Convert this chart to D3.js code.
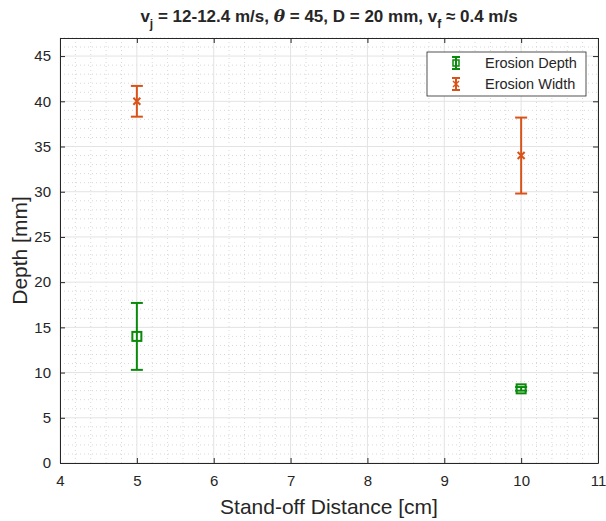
<!DOCTYPE html>
<html>
<head>
<meta charset="utf-8">
<script src="https://cdn.jsdelivr.net/npm/d3@7"></script>
<style>
  body { margin: 0; background: #fff; }
  text { font-family: "Liberation Sans", Arial, sans-serif; }
</style>
</head>
<body>
<svg width="606" height="521"></svg>
<script>
// data
const standoff = [5, 10];
const depthVals = [14, 8.2];
const depthErr = [3.7, 0.2];
const widthVals = [40, 34];
const widthErr = [1.7, 4.2];
const xTicks = [4, 5, 6, 7, 8, 9, 10, 11];
const yTicks = [0, 5, 10, 15, 20, 25, 30, 35, 40, 45];

const green = "#0a8a0a";
const orange = "#d95319";

const svg = d3.select("svg");
const margin = {top: 38, right: 8, bottom: 58, left: 60};
const W = 606 - margin.left - margin.right;
const H = 521 - margin.top - margin.bottom;

const x = d3.scaleLinear().domain([4, 11]).range([0, W]);
const y = d3.scaleLinear().domain([0, 47]).range([H, 0]);

const chart = svg.append("g")
    .attr("transform", `translate(${margin.left}, ${margin.top})`);

// minor grid (dotted)
const xMinor = d3.range(4, 11.001, 0.2).filter(v => Math.abs(v - Math.round(v)) > 0.01);
const yMinor = d3.range(0, 47.001, 1).filter(v => v % 5 !== 0);
chart.selectAll(".xminor").data(xMinor).enter().append("line")
    .attr("x1", d => x(d)).attr("x2", d => x(d))
    .attr("y1", 0).attr("y2", H)
    .attr("stroke", "#d8d8d8").attr("stroke-width", 1)
    .attr("stroke-dasharray", "1,3");
chart.selectAll(".yminor").data(yMinor).enter().append("line")
    .attr("x1", 0).attr("x2", W)
    .attr("y1", d => y(d)).attr("y2", d => y(d))
    .attr("stroke", "#d8d8d8").attr("stroke-width", 1)
    .attr("stroke-dasharray", "1,3");

// major grid
chart.selectAll(".xmajor").data(xTicks).enter().append("line")
    .attr("x1", d => x(d)).attr("x2", d => x(d))
    .attr("y1", 0).attr("y2", H)
    .attr("stroke", "#e3e3e3").attr("stroke-width", 1);
chart.selectAll(".ymajor").data(yTicks).enter().append("line")
    .attr("x1", 0).attr("x2", W)
    .attr("y1", d => y(d)).attr("y2", d => y(d))
    .attr("stroke", "#e3e3e3").attr("stroke-width", 1);

// axes with inward ticks
const xAxis = chart.append("g")
    .attr("transform", `translate(0, ${H})`)
    .call(d3.axisBottom(x).tickValues(xTicks).tickFormat(d3.format("d"))
        .tickSizeInner(-5).tickSizeOuter(0).tickPadding(12));
const yAxis = chart.append("g")
    .call(d3.axisLeft(y).tickValues(yTicks).tickFormat(d3.format("d"))
        .tickSizeInner(-5).tickSizeOuter(0).tickPadding(9));
[xAxis, yAxis].forEach(a => {
    a.select(".domain").attr("stroke", "#262626");
    a.selectAll(".tick line").attr("stroke", "#262626");
    a.selectAll("text").attr("font-size", 15).attr("fill", "#262626")
        .style("font-family", "'Liberation Sans', Arial, sans-serif");
});
// top and right ticks + frame
chart.append("g")
    .call(d3.axisTop(x).tickValues(xTicks).tickSizeInner(-5).tickSizeOuter(0).tickFormat(""))
    .call(g => g.selectAll("line, path").attr("stroke", "#262626"));
chart.append("g").attr("transform", `translate(${W}, 0)`)
    .call(d3.axisRight(y).tickValues(yTicks).tickSizeInner(-5).tickSizeOuter(0).tickFormat(""))
    .call(g => g.selectAll("line, path").attr("stroke", "#262626"));

// error bars
function errorBars(vals, errs, color, cls) {
    const pts = standoff.map((s, i) => ({x: s, v: vals[i], e: errs[i]}));
    const g = chart.append("g").attr("class", cls);
    g.selectAll(".stem").data(pts).enter().append("line")
        .attr("x1", d => x(d.x)).attr("x2", d => x(d.x))
        .attr("y1", d => y(d.v - d.e)).attr("y2", d => y(d.v + d.e))
        .attr("stroke", color).attr("stroke-width", 2);
    [-1, 1].forEach(s => {
        g.selectAll(".cap" + s).data(pts).enter().append("line")
            .attr("x1", d => x(d.x) - 6).attr("x2", d => x(d.x) + 6)
            .attr("y1", d => y(d.v + s * d.e)).attr("y2", d => y(d.v + s * d.e))
            .attr("stroke", color).attr("stroke-width", 2);
    });
    return {g, pts};
}

const dep = errorBars(depthVals, depthErr, green, "depth");
dep.g.selectAll(".mk").data(dep.pts).enter().append("rect")
    .attr("x", d => x(d.x) - 4.5).attr("y", d => y(d.v) - 4.5)
    .attr("width", 9).attr("height", 9)
    .attr("fill", "none").attr("stroke", green).attr("stroke-width", 2);

const wid = errorBars(widthVals, widthErr, orange, "width");
wid.g.selectAll(".mk").data(wid.pts).enter().append("path")
    .attr("d", d => {
        const cx = x(d.x), cy = y(d.v), r = 3.5;
        return `M${cx - r},${cy - r}L${cx + r},${cy + r}M${cx - r},${cy + r}L${cx + r},${cy - r}`;
    })
    .attr("stroke", orange).attr("stroke-width", 2);

// legend
const lg = svg.append("g").attr("transform", "translate(427, 52)");
lg.append("rect").attr("width", 159).attr("height", 44)
    .attr("fill", "#fff").attr("stroke", "#262626").attr("stroke-width", 0.8);
const legendItems = [
    {name: "Erosion Depth", color: green, sym: "square"},
    {name: "Erosion Width", color: orange, sym: "x"}
];
legendItems.forEach((it, i) => {
    const cy = 11 + i * 21, cx = 29;
    lg.append("line").attr("x1", cx).attr("x2", cx).attr("y1", cy - 6).attr("y2", cy + 6)
        .attr("stroke", it.color).attr("stroke-width", 2);
    [-6, 6].forEach(o => lg.append("line").attr("x1", cx - 4).attr("x2", cx + 4)
        .attr("y1", cy + o).attr("y2", cy + o).attr("stroke", it.color).attr("stroke-width", 2));
    if (it.sym === "square") {
        lg.append("rect").attr("x", cx - 3).attr("y", cy - 3).attr("width", 6).attr("height", 6)
            .attr("fill", "none").attr("stroke", it.color).attr("stroke-width", 1.5);
    } else {
        lg.append("path").attr("d", `M${cx - 3},${cy - 3}L${cx + 3},${cy + 3}M${cx - 3},${cy + 3}L${cx + 3},${cy - 3}`)
            .attr("stroke", it.color).attr("stroke-width", 1.5);
    }
    lg.append("text").attr("x", 58).attr("y", cy + 5)
        .attr("font-size", 14.5).attr("fill", "#262626").text(it.name);
});

// axis labels
svg.append("text")
    .attr("x", margin.left + W / 2).attr("y", 514)
    .attr("text-anchor", "middle").attr("font-size", 21).attr("fill", "#262626")
    .text("Stand-off Distance [cm]");
svg.append("text")
    .attr("transform", `translate(27, ${margin.top + H / 2}) rotate(-90)`)
    .attr("text-anchor", "middle").attr("font-size", 21).attr("fill", "#262626")
    .text("Depth [mm]");

// title
const title = svg.append("text")
    .attr("x", margin.left + W / 2).attr("y", 22)
    .attr("text-anchor", "middle").attr("font-size", 17).attr("font-weight", "bold")
    .attr("fill", "#262626");
title.append("tspan").text("v");
title.append("tspan").attr("font-size", 12).attr("dy", 6).text("j");
title.append("tspan").attr("dy", -6).text(" = 12-12.4 m/s, ");
title.append("tspan").attr("font-family", "'DejaVu Serif', serif").attr("font-style", "italic").text("θ");
title.append("tspan").text(" = 45, D = 20 mm, v");
title.append("tspan").attr("font-size", 12).attr("dy", 6).text("f");
title.append("tspan").attr("dy", -6).text(" ≈ 0.4 m/s");
</script>
</body>
</html>
